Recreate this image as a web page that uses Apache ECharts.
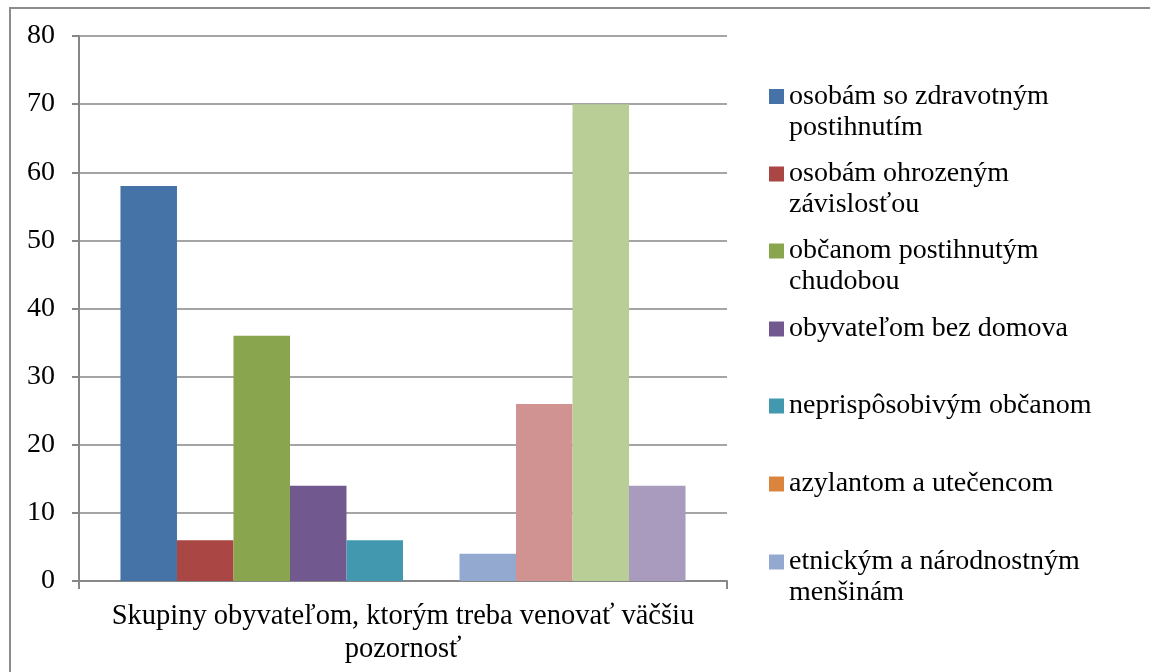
<!DOCTYPE html>
<html lang="sk">
<head>
    <meta charset="UTF-8">
    <title>Skupiny obyvateľom</title>
    <script src="https://cdn.jsdelivr.net/npm/echarts@6/dist/echarts.min.js"></script>
    <style>
        html, body { margin: 0; padding: 0; background: #fff; }
        #chart { width: 1150px; height: 672px; }
    </style>
</head>
<body>
    <div id="chart"></div>

    <script>
        // data
        const categories = ['Skupiny obyvateľom, ktorým treba venovať väčšiu pozornosť'];
        const seriesNames = [
            'osobám so zdravotným\npostihnutím',
            'osobám ohrozeným\nzávislosťou',
            'občanom postihnutým\nchudobou',
            'obyvateľom bez domova',
            'neprispôsobivým občanom',
            'azylantom a utečencom',
            'etnickým a národnostným\nmenšinám',
            'séria 8',
            'séria 9',
            'séria 10'
        ];
        const seriesValues = [58, 6, 36, 14, 6, 0, 4, 26, 70, 14];
        const colors = ['#4572A7', '#AA4643', '#89A54E', '#71588F', '#4198AF',
                        '#DB843D', '#93A9CF', '#D19392', '#B9CD96', '#A99BBD'];
        const yTicks = { min: 0, max: 80, interval: 10 };
        const legendCount = 7; // only the first seven fit in the legend box

        const font = '"Liberation Serif", "Times New Roman", serif';
        const axisGray = '#878787';
        const lineH = 31;

        const chart = echarts.init(document.getElementById('chart'));

        // one legend per entry so each marker lines up with the first text line;
        // two-line names get a blank line on top so the block centres on line 1
        const markerCenters = [95.5, 173, 250, 328, 405, 483, 561];
        const legends = seriesNames.slice(0, legendCount).map((name, i) => {
            const twoLines = name.indexOf('\n') >= 0;
            return {
                data: [name],
                left: 769,
                top: markerCenters[i] + 8.5 - (twoLines ? 7.5 + 1.5 * lineH : 7.5 + 0.5 * lineH),
                padding: 0,
                itemWidth: 15,
                itemHeight: 15,
                icon: 'rect',
                selectedMode: false,
                formatter: n => (twoLines ? '\u00a0\n' + n : n),
                textStyle: {
                    fontFamily: font,
                    fontSize: 28,
                    lineHeight: lineH,
                    color: '#000'
                }
            };
        });

        const option = {
            animation: false,
            backgroundColor: '#fff',
            color: colors,
            graphic: [{
                type: 'rect',
                shape: { x: 10, y: 8, width: 1160, height: 700 },
                style: { fill: 'none', stroke: '#8c8c8c', lineWidth: 2 },
                silent: true
            }],
            legend: legends,
            grid: { left: 79, right: 423, top: 36, bottom: 91, containLabel: false },
            xAxis: {
                type: 'category',
                data: categories,
                axisLine: { lineStyle: { color: axisGray, width: 2 } },
                axisTick: { show: true, length: 8, lineStyle: { color: axisGray, width: 2 } },
                axisLabel: {
                    fontFamily: font,
                    fontSize: 28.5,
                    lineHeight: 33,
                    color: '#000',
                    margin: 19,
                    formatter: v => v.replace(' pozornosť', '\npozornosť')
                }
            },
            yAxis: {
                type: 'value',
                min: yTicks.min,
                max: yTicks.max,
                interval: yTicks.interval,
                axisLine: { show: true, lineStyle: { color: axisGray, width: 2 } },
                axisTick: { show: true, length: 7, lineStyle: { color: axisGray, width: 2 } },
                axisLabel: {
                    fontFamily: font,
                    fontSize: 28,
                    color: '#000',
                    margin: 24
                },
                splitLine: { lineStyle: { color: axisGray, width: 1.5 } }
            },
            series: seriesNames.map((name, i) => ({
                name: name,
                type: 'bar',
                data: [seriesValues[i]],
                barGap: '0%',
                barCategoryGap: '12.8%',
                itemStyle: { color: colors[i] }
            }))
        };

        chart.setOption(option);
    </script>
</body>
</html>
